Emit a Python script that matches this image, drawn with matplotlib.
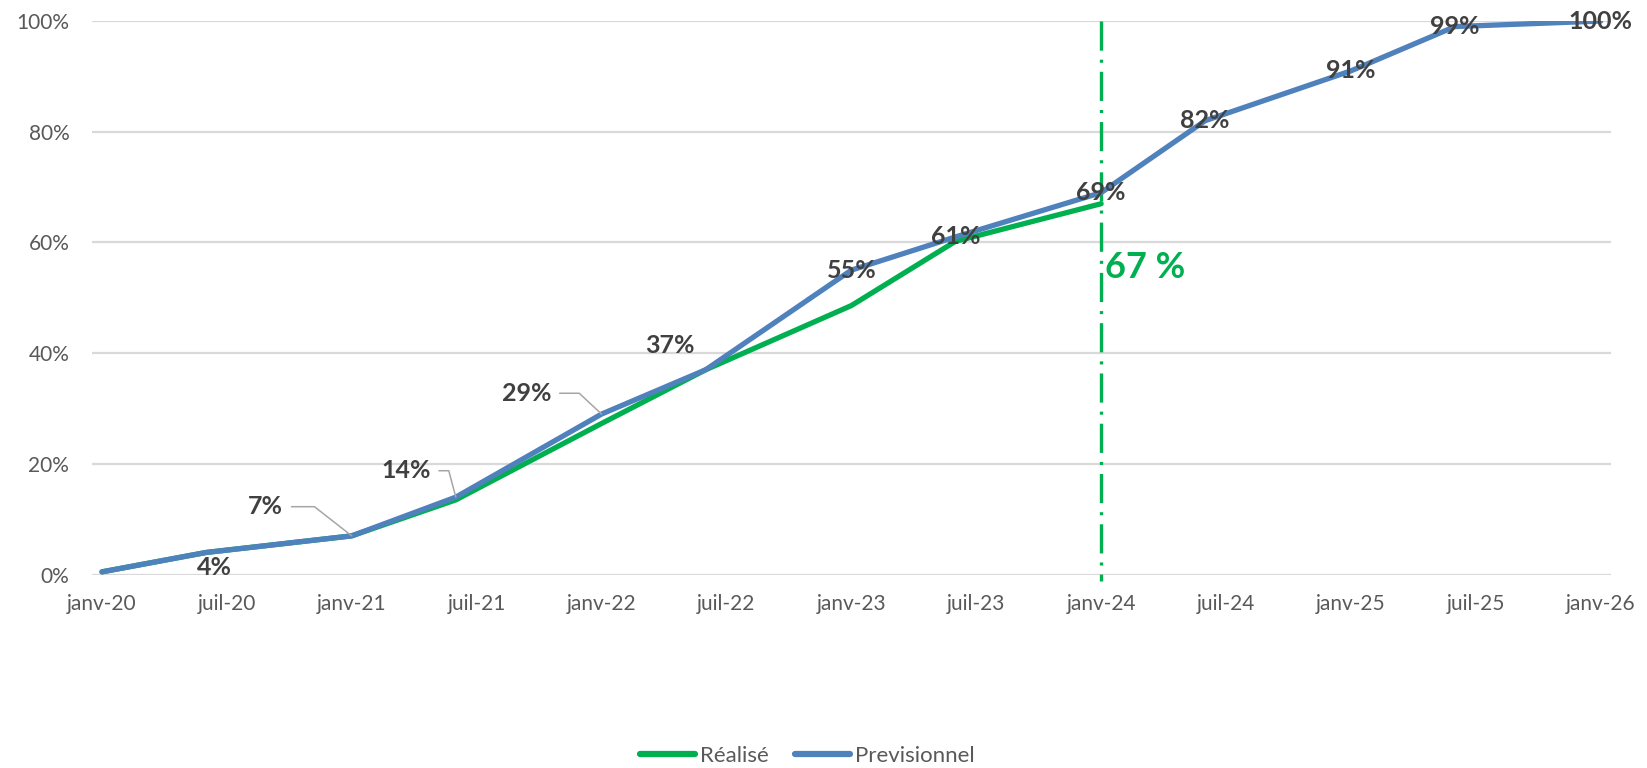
import matplotlib
matplotlib.use("Agg")
import matplotlib.pyplot as plt
from matplotlib.ticker import FixedLocator, FuncFormatter
from matplotlib.lines import Line2D

# ---------------- data ----------------
dates = ["2020-01", "2020-06", "2021-01", "2021-06", "2022-01", "2022-06",
         "2023-01", "2023-06", "2024-01", "2024-06", "2025-01", "2025-06", "2026-01"]
previsionnel = [0.005, 0.04, 0.07, 0.14, 0.29, 0.37, 0.55, 0.61, 0.69, 0.82, 0.91, 0.99, 1.00]
realise = [0.005, 0.04, 0.07, 0.135, 0.273, 0.37, 0.486, 0.602, 0.67]
tick_labels = ["janv-20", "juil-20", "janv-21", "juil-21", "janv-22", "juil-22", "janv-23",
               "juil-23", "janv-24", "juil-24", "janv-25", "juil-25", "janv-26"]
cut_date = "2024-01"
cut_label = "67 %"
series_names = ["Réalisé", "Previsionnel"]

def month_index(d):
    y, m = d.split("-")
    return (int(y) - 2020) * 12 + int(m) - 1

x_prev = [month_index(d) for d in dates]
x_real = x_prev[:len(realise)]
x_cut = month_index(cut_date)
tick_pos = [i * 6 for i in range(len(tick_labels))]

# label placement (offset in points from point; None = no label), leader angle
label_offsets = [None, (6, -10.5), (-62, 21), (-36, 19), (-54, 15), (-26, 17.5),
                 (0, 0), (0, 0), (0, 0), (0, 0), (0, 0), (0, 0), (0, 0)]
leader_angles = {2: 142, 3: 105, 4: 137}

GREEN = "#00B050"
BLUE = "#4F81BD"
GRID = "#D9D9D9"
TICK = "#595959"
LABEL = "#404040"
FONT = ["Lato", "DejaVu Sans"]

plt.rcParams["font.family"] = FONT
plt.rcParams["lines.scale_dashes"] = False

fig = plt.figure(figsize=(16.47, 7.68), dpi=100)
ax = fig.add_axes([0.0556, 0.2518, 0.9226, 0.7208])

ax.set_xlim(-0.5, 72.5)
ax.set_ylim(0, 1.0)

ax.yaxis.set_major_locator(FixedLocator([0, 0.2, 0.4, 0.6, 0.8, 1.0]))
ax.yaxis.set_major_formatter(FuncFormatter(lambda v, p: f"{v*100:.0f}%"))
ax.xaxis.set_major_locator(FixedLocator(tick_pos))
ax.set_xticklabels(tick_labels)
ax.grid(axis="y", color=GRID, linewidth=1.6, zorder=0)
ax.set_axisbelow(True)
for s in ax.spines.values():
    s.set_visible(False)
ax.tick_params(axis="both", length=0, labelsize=15, labelcolor=TICK)
ax.tick_params(axis="y", pad=16)
ax.tick_params(axis="x", pad=14)

ax.plot(x_real, realise, color=GREEN, linewidth=3.8, solid_capstyle="round",
        solid_joinstyle="round", zorder=3, label=series_names[0])
ax.plot(x_prev, previsionnel, color=BLUE, linewidth=3.8, solid_capstyle="round",
        solid_joinstyle="round", zorder=4, label=series_names[1])

# vertical cut line
ax.plot([x_cut, x_cut], [1.0, -0.012], color=GREEN, linewidth=2.4, zorder=2, clip_on=False,
        linestyle=(0, (21, 6.5, 2.2, 6.5)), solid_capstyle="butt", dash_capstyle="butt")

ax.annotate(cut_label, xy=(x_cut, 0.554), xytext=(3, 0), textcoords="offset points",
            ha="left", va="center", fontsize=26, fontweight="bold", color=GREEN, zorder=6)

# data labels
for i, (xv, yv) in enumerate(zip(x_prev, previsionnel)):
    off = label_offsets[i]
    if off is None:
        continue
    kw = {}
    if i in leader_angles:
        kw["arrowprops"] = dict(arrowstyle="-", color="#A6A6A6", linewidth=1.1,
                                connectionstyle=f"angle,angleA=0,angleB={leader_angles[i]},rad=0",
                                relpos=(1, 0.5), shrinkA=4, shrinkB=0)
    ax.annotate(f"{yv*100:.0f}%", xy=(xv, yv), xytext=off, textcoords="offset points",
                ha="center", va="center", fontsize=18, fontweight="bold", color=LABEL,
                zorder=7, **kw)

handles = [Line2D([], [], color=GREEN, linewidth=4.5, solid_capstyle="round"),
           Line2D([], [], color=BLUE, linewidth=4.5, solid_capstyle="round")]
leg = fig.legend(handles, series_names, loc="center", bbox_to_anchor=(0.49, 0.016), ncol=2,
                 frameon=False, fontsize=16, handlelength=2.5, handletextpad=0.2,
                 columnspacing=1.2)
for t in leg.get_texts():
    t.set_color(TICK)

fig.savefig("out.png", dpi=100)
